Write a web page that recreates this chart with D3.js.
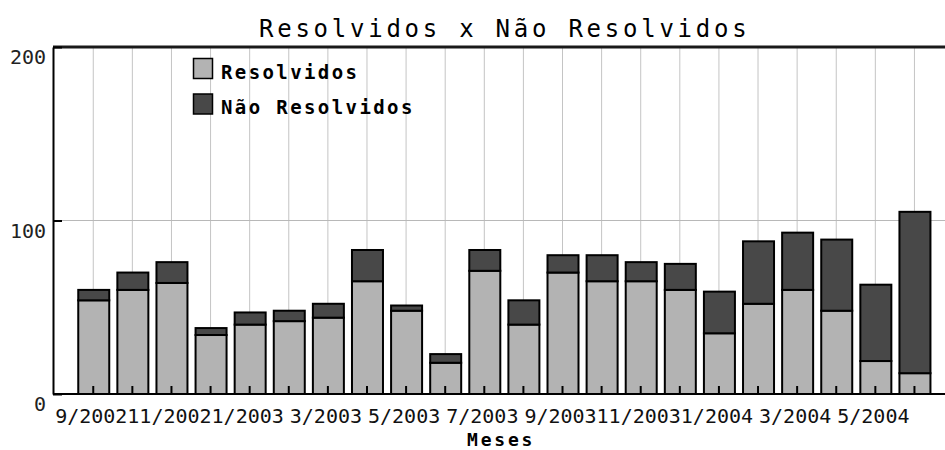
<!DOCTYPE html>
<html><head><meta charset="utf-8">
<script src="https://cdn.jsdelivr.net/npm/d3@7"></script>
<style>body{margin:0;background:#fff}svg{display:block}</style>
</head><body>
<svg id="c" width="945" height="450"></svg>
<script>
const months = ["9/2002","10/2002","11/2002","12/2002","1/2003","2/2003","3/2003","4/2003","5/2003","6/2003","7/2003","8/2003","9/2003","10/2003","11/2003","12/2003","1/2004","2/2004","3/2004","4/2004","5/2004","6/2004"];
const resolvidos    = [54,60,64,34,40,42,44,65,48,18,71,40,70,65,65,60,35,52,60,48,19,12];
const naoResolvidos = [ 6,10,12, 4, 7, 6, 8,18, 3, 5,12,14,10,15,11,15,24,36,33,41,44,93];
const yTicks = [0,100,200];
const seriesNames = ["Resolvidos","Não Resolvidos"];
const titleText = "Resolvidos x Não Resolvidos";
const xTitle = "Meses";

const colors = ["#b3b3b3","#484848"];
const W = 945, H = 450;
const plotL = 53, plotR = 945, plotT = 47, plotB = 394;

const svg = d3.select("#c");
const mono = "'DejaVu Sans Mono', monospace";

const x = d3.scaleBand().domain(months).range([73.7, 934]).padding(0);
const y = d3.scaleLinear().domain([0,200]).range([plotB, plotT]);

const data = months.map((m,i)=>({m, r:resolvidos[i], n:naoResolvidos[i]}));
const stack = d3.stack().keys(["r","n"])(data);

// grid
const g = svg.append("g");
g.selectAll("line.v").data(months).join("line")
  .attr("x1", d=>x(d)+x.bandwidth()/2).attr("x2", d=>x(d)+x.bandwidth()/2)
  .attr("y1", plotT).attr("y2", plotB)
  .attr("stroke","#c4c4c4").attr("stroke-width",1);
g.selectAll("line.h").data(yTicks.filter(t=>t>0 && t<200)).join("line")
  .attr("x1", plotL).attr("x2", plotR)
  .attr("y1", d=>y(d)).attr("y2", d=>y(d))
  .attr("stroke","#b8b8b8").attr("stroke-width",1);

// bars
const bw = 31;
stack.forEach((s,si)=>{
  svg.append("g").selectAll("rect").data(s).join("rect")
    .attr("x", d=>x(d.data.m)+x.bandwidth()/2 - bw/2 + 0.5)
    .attr("width", bw)
    .attr("y", d=>y(d[1]))
    .attr("height", d=>y(d[0])-y(d[1]))
    .attr("fill", colors[si])
    .attr("stroke","#000").attr("stroke-width",2);
});

// top frame
svg.append("line").attr("x1",plotL).attr("x2",plotR).attr("y1",plotT).attr("y2",plotT)
  .attr("stroke","#1a1a1a").attr("stroke-width",3);

// left axis
const ya = svg.append("g").attr("transform",`translate(${plotL},0)`)
  .call(d3.axisLeft(y).tickValues(yTicks).tickSizeInner(-9).tickSizeOuter(0).tickPadding(7));
ya.select(".domain").attr("stroke","#000").attr("stroke-width",2);
ya.selectAll(".tick line").attr("stroke","#000").attr("stroke-width",2);
ya.selectAll(".tick text").attr("font-family",mono).attr("font-size",20).attr("fill","#222")
  .attr("dy","0.84em");

// bottom axis
const xa = svg.append("g").attr("transform",`translate(0,${plotB})`)
  .call(d3.axisBottom(x).tickSizeInner(-8).tickSizeOuter(0).tickPadding(15)
    .tickFormat((d,i)=> i%2===0 ? d : ""));
xa.select(".domain").attr("d",`M${plotL},0H${plotR}`).attr("stroke","#000").attr("stroke-width",2);
xa.selectAll(".tick line").attr("stroke","#000").attr("stroke-width",2);
xa.selectAll(".tick text").attr("font-family",mono).attr("font-size",20).attr("fill","#111")
  .attr("dx","-2");

// title
svg.append("text").attr("x",259).attr("y",37)
  .attr("font-family",mono).attr("font-size",24).attr("letter-spacing","3.75px")
  .attr("fill","#000").text(titleText);

// x title
svg.append("text").attr("x",467).attr("y",446)
  .attr("font-family",mono).attr("font-weight","bold").attr("font-size",18).attr("letter-spacing","2.8px")
  .attr("fill","#000").text(xTitle);

// legend
const lg = svg.append("g");
seriesNames.forEach((n,i)=>{
  lg.append("rect").attr("x",193.5).attr("y",58.5+i*35.5).attr("width",19).attr("height",20)
    .attr("fill",colors[i]).attr("stroke","#000").attr("stroke-width",1.5);
  lg.append("text").attr("x",221).attr("y",78.5+i*35)
    .attr("font-family",mono).attr("font-weight","bold").attr("font-size",19).attr("letter-spacing","2.4px")
    .attr("fill","#000").text(n);
});
</script>
</body></html>
